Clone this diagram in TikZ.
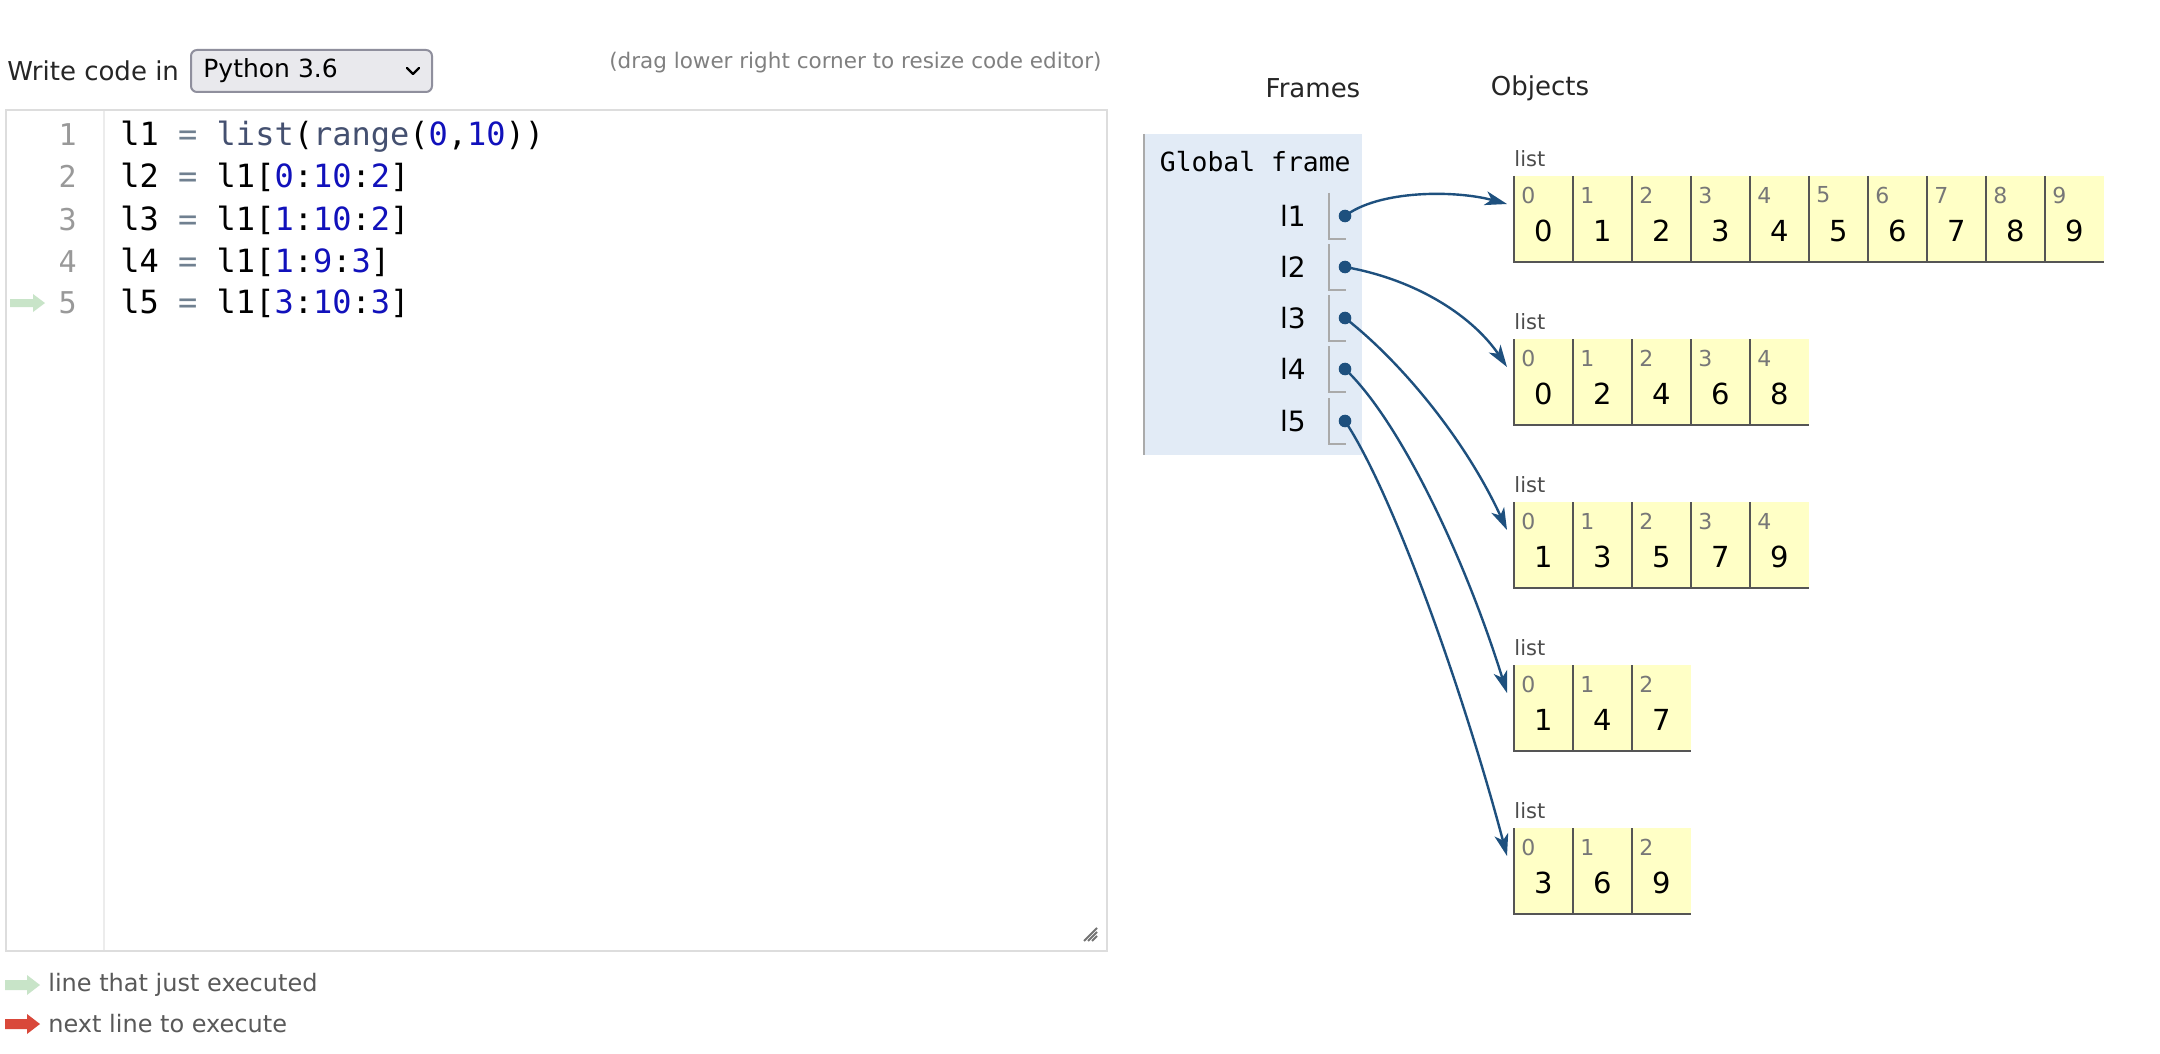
\documentclass[tikz,border=0pt]{standalone}
\usepackage{fontspec}
\setmainfont{DejaVu Sans}
\setmonofont{DejaVu Sans Mono}
\usetikzlibrary{arrows.meta,positioning}
\definecolor{ptFrame}{RGB}{226,235,246}
\definecolor{ptFrameLine}{RGB}{170,170,170}
\definecolor{ptCell}{RGB}{255,255,198}
\definecolor{ptCellLine}{RGB}{85,85,85}
\definecolor{ptArrow}{RGB}{30,80,126}
\definecolor{ptIdx}{RGB}{119,119,119}
\definecolor{ptNum}{RGB}{17,17,187}
\definecolor{ptFn}{RGB}{68,80,112}
\definecolor{ptEq}{RGB}{112,128,144}
\definecolor{ptGutter}{RGB}{153,153,153}
\definecolor{ptGutterLine}{RGB}{236,236,236}
\definecolor{ptBorder}{RGB}{221,221,221}
\definecolor{ptGreen}{RGB}{200,228,200}
\definecolor{ptRed}{RGB}{217,72,58}
\definecolor{ptSelFill}{RGB}{233,233,237}
\definecolor{ptSelLine}{RGB}{143,143,157}
\newcommand\ptnum[1]{\textcolor{ptNum}{#1}}
\newcommand\ptfn[1]{\textcolor{ptFn}{#1}}
\newcommand\pteq{\textcolor{ptEq}{=}}

\begin{document}
\begin{tikzpicture}[x=0.5pt,y=-0.5pt,
  every node/.style={inner sep=0pt},
  uitext/.style={font=\fontsize{13}{15}\selectfont, text=black!85},
  hinttext/.style={font=\fontsize{10.75}{13}\selectfont, text=black!50},
  legendtext/.style={anchor=west, font=\fontsize{12}{14}\selectfont, text=black!65},
  codeline/.style={anchor=base west, font=\ttfamily\fontsize{16}{19}\selectfont},
  lineno/.style={anchor=base east, font=\ttfamily\fontsize{15}{18}\selectfont, text=ptGutter},
  varname/.style={anchor=east, font=\fontsize{14}{16}\selectfont},
  slotline/.style={draw=ptFrameLine, line width=1pt},
  heapdot/.style={circle, fill=ptArrow, minimum size=6.3pt},
  listlbl/.style={anchor=west, font=\fontsize{10.5}{12}\selectfont, text=black!70},
  idx/.style={anchor=west, font=\fontsize{11}{12}\selectfont, text=ptIdx},
  val/.style={font=\fontsize{14.5}{16}\selectfont},
  cellline/.style={draw=ptCellLine, line width=1.3pt},
  refarrow/.style={-{Stealth[length=11pt,width=7pt,inset=3pt]}, draw=ptArrow, line width=1.2pt}]

\fill[white] (0,0) rectangle (2160,1054);
\path[use as bounding box] (0,0) rectangle (2160,1054);

% ===== code editor =====
\node[uitext, anchor=west] (wlabel) at (7,71) {Write code in};
\draw[draw=ptSelLine, fill=ptSelFill, line width=1pt, rounded corners=3pt] (191,50) rectangle (432,92);
\node[uitext, anchor=west, font=\fontsize{12.5}{15}\selectfont, text=black] (sel) at (203,71) {Python 3.6};
\draw[line width=1.1pt, line cap=round, line join=round] (407,68) -- (413,74) -- (419,68);
\node[hinttext, anchor=east] (hint) at (1102,63) {(drag lower right corner to resize code editor)};

\draw[ptBorder, line width=1pt] (5.5,110) rectangle (1107,951);
\draw[ptGutterLine, line width=1pt] (104,111) -- (104,950);
% resize grip
\foreach \g in {0,4,8}
  \draw[black!55, line width=1pt] (1084+\g,941) -- (1097,928+\g);

\foreach \k in {1,...,5}
  \node[lineno] (n\k) at (77,104+42*\k) {\k};
\node[codeline] (c1) at (120,146) {l1 \pteq{} \ptfn{list}(\ptfn{range}(\ptnum{0},\ptnum{10}))};
\node[codeline] (c2) at (120,188) {l2 \pteq{} l1[\ptnum{0}:\ptnum{10}:\ptnum{2}]};
\node[codeline] (c3) at (120,230) {l3 \pteq{} l1[\ptnum{1}:\ptnum{10}:\ptnum{2}]};
\node[codeline] (c4) at (120,272) {l4 \pteq{} l1[\ptnum{1}:\ptnum{9}:\ptnum{3}]};
\node[codeline] (c5) at (120,314) {l5 \pteq{} l1[\ptnum{3}:\ptnum{10}:\ptnum{3}]};

% current line marker
\fill[ptGreen] (10,299) -- (33,299) -- (33,294) -- (45,303) -- (33,312) -- (33,307) -- (10,307) -- cycle;

% legend
\fill[ptGreen] (5,980) -- (27,980) -- (27,975) -- (40,985) -- (27,995) -- (27,990) -- (5,990) -- cycle;
\node[legendtext] (lg1) at (48,985) {line that just executed};
\fill[ptRed] (5,1019) -- (27,1019) -- (27,1014) -- (40,1024) -- (27,1034) -- (27,1029) -- (5,1029) -- cycle;
\node[legendtext] (lg2) at (48,1024) {next line to execute};

% ===== frames =====
\node[uitext] (frames) at (1313,88) {Frames};
\node[uitext] (objects) at (1540,88) {Objects};

\fill[ptFrame] (1144,134) rectangle (1362,455);
\draw[ptFrameLine, line width=1pt] (1144,134) -- (1144,455);
\node[anchor=east, font=\ttfamily\fontsize{13.2}{15}\selectfont] (gframe) at (1351,162) {Global frame};

\foreach \k/\vy in {1/216,2/267,3/318,4/369,5/421} {
  \node[varname] (v\k) at (1306,\vy) {l\k};
  \draw[slotline] (1329,\vy-23) -- (1329,\vy+23) -- (1346,\vy+23);
  \node[heapdot] (d\k) at (1345,\vy) {};
}

% ===== objects =====
\foreach \nm/\ty/\vals in {1/176/{0,1,2,3,4,5,6,7,8,9}, 2/339/{0,2,4,6,8}, 3/502/{1,3,5,7,9}, 4/665/{1,4,7}, 5/828/{3,6,9}} {
  \node[listlbl] (lbl\nm) at (1514,\ty-17) {list};
  \foreach \v [count=\i from 0] in \vals {
    \fill[ptCell] (1514+59*\i,\ty) rectangle ++(59,86);
    \draw[cellline] (1514+59*\i,\ty) -- ++(0,86) -- ++(59,0);
    \node[idx] (i\nm-\i) at (1521+59*\i,\ty+19) {\i};
    \node[val] (o\nm-\i) at (1543.5+59*\i,\ty+55) {\v};
  }
  \coordinate (t\nm) at (1507,\ty+28);
}

% references
\draw[refarrow] (d1.center) .. controls +(34,-26) and +(-52,-14) .. (t1);
\draw[refarrow] (d2.center) .. controls +(74,13) and +(-33,-49) .. (t2);
\draw[refarrow] (d3.center) .. controls +(54,42) and +(-43,-93) .. (t3);
\draw[refarrow] (d4.center) .. controls +(54,51) and +(-43,-138) .. (t4);
\draw[refarrow] (d5.center) .. controls +(49,74) and +(-43,-162) .. (t5);

\end{tikzpicture}
\end{document}
